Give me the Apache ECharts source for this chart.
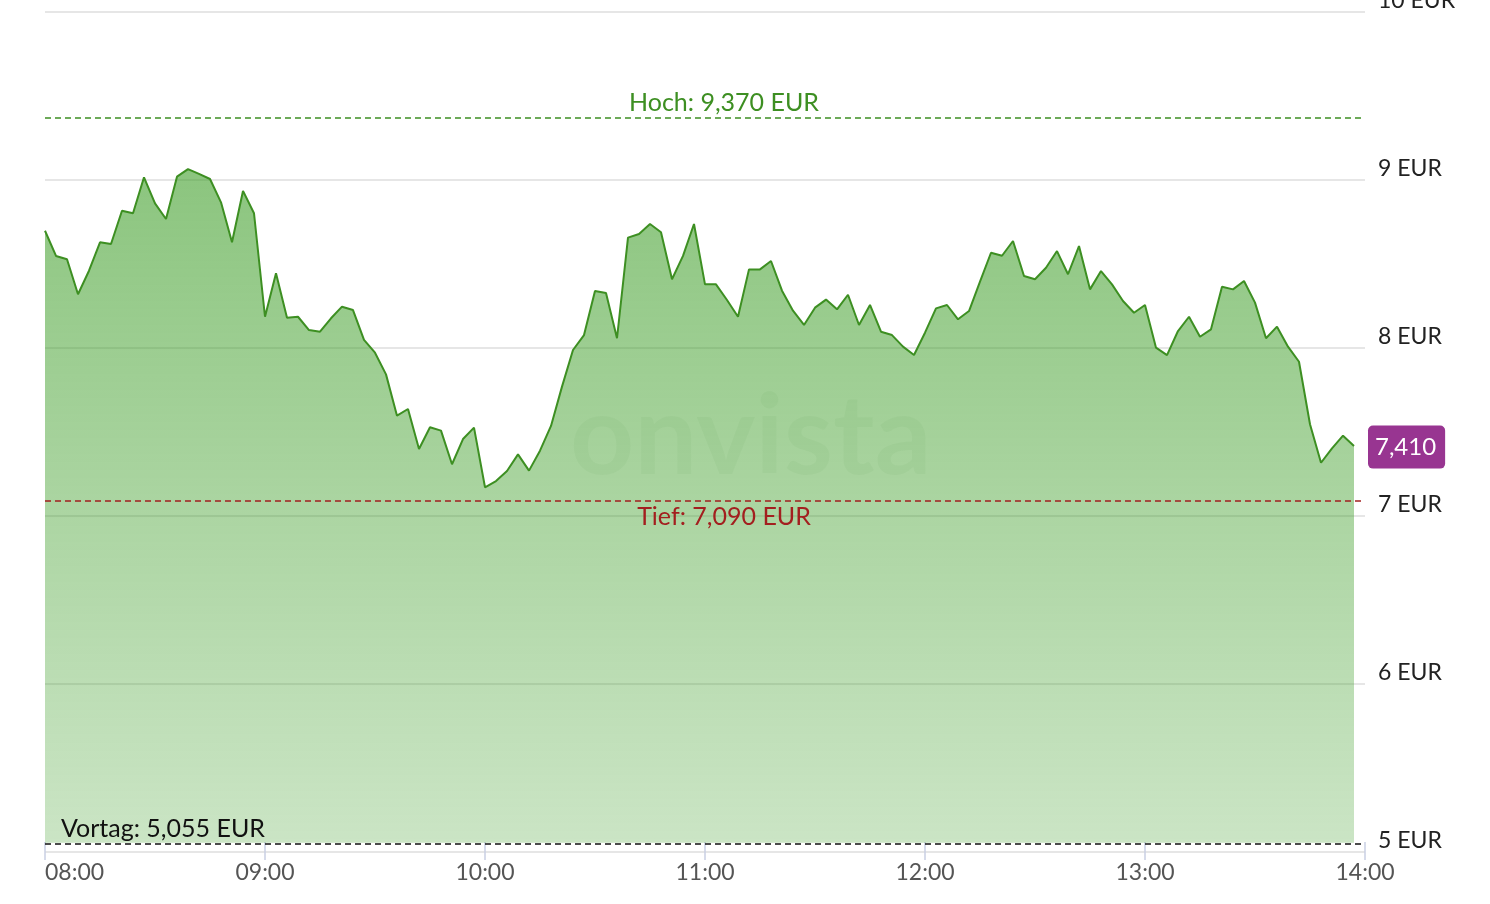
<!DOCTYPE html>
<html><head><meta charset="utf-8">
<script src="https://cdn.jsdelivr.net/npm/echarts@6/dist/echarts.min.js"></script>
<style>html,body{margin:0;padding:0;background:#fff}#c{width:1490px;height:904px}</style>
</head><body><div id="c"></div>
<script>
const startMinute = 0;           // 08:00
const stepMinutes = 3;
const prices = [
 8.698, 8.548, 8.528, 8.320, 8.460, 8.629, 8.619, 8.817, 8.802, 9.016, 8.861, 8.768, 9.020, 9.065, 9.036, 9.006, 8.867, 8.629, 8.935, 8.802, 8.186, 8.445, 8.180,
 8.186, 8.107, 8.097, 8.177, 8.246, 8.226, 8.048, 7.972, 7.843, 7.597, 7.637, 7.399, 7.528, 7.508, 7.308, 7.458, 7.526, 7.171, 7.208, 7.268, 7.367, 7.270,
 7.389, 7.536, 7.770, 7.988, 8.077, 8.339, 8.327, 8.058, 8.657, 8.679, 8.738, 8.689, 8.409, 8.548, 8.738, 8.379, 8.379, 8.286, 8.186, 8.468, 8.468, 8.518,
 8.341, 8.222, 8.137, 8.240, 8.288, 8.230, 8.317, 8.137, 8.256, 8.097, 8.077, 8.008, 7.958, 8.091, 8.236, 8.256, 8.171, 8.220, 8.395, 8.567, 8.549, 8.637,
 8.429, 8.409, 8.478, 8.577, 8.439, 8.607, 8.349, 8.458, 8.379, 8.280, 8.210, 8.256, 8.002, 7.958, 8.101, 8.186, 8.067, 8.111, 8.365, 8.349, 8.399, 8.270, 8.058, 8.127, 8.008, 7.918, 7.546, 7.317, 7.403, 7.478, 7.417
];
const high = 9.370, low = 7.090, prevClose = 5.055, last = 7.410;
const xTickLabels = ["08:00","09:00","10:00","11:00","12:00","13:00","14:00"];
const yTicks = [5,6,7,8,9,10];

const fmt = v => v.toFixed(3).replace('.', ',');
const data = prices.map((p, i) => [startMinute + i * stepMinutes, p]);
const FONT = 'Lato';

const chart = echarts.init(document.getElementById('c'), null, {renderer: 'canvas'});
chart.setOption({
  animation: false,
  textStyle: {fontFamily: FONT},
  grid: {left: 45, right: 125, top: 12, bottom: 52, containLabel: false, outerBoundsMode: 'none'},
  graphic: [{
    type: 'text', left: 570, top: 382, silent: true, z: 1,
    style: {text: 'onvista', font: 'bold 112px Lato', fill: 'rgba(0,60,0,0.045)'}
  }],
  xAxis: {
    type: 'value', min: 0, max: 360, interval: 60, offset: -10,
    axisLine: {show: false},
    axisTick: {show: true, length: 18, lineStyle: {color: '#c9d0e3', width: 1.5}},
    axisLabel: {margin: 19, fontSize: 23, color: '#555', fontFamily: FONT, alignMinLabel: 'left',
      formatter: v => xTickLabels[Math.round(v / 60)]},
    splitLine: {show: false}
  },
  yAxis: {
    type: 'value', position: 'right', min: 5, max: 10, interval: 1,
    axisLine: {show: false}, axisTick: {show: false},
    axisLabel: {margin: 13, fontSize: 23, color: '#222', fontFamily: FONT,
      verticalAlign: 'bottom', padding: [0,0,0,0],
      formatter: v => yTicks.includes(v) ? v + ' EUR' : ''},
    splitLine: {show: true, lineStyle: {color: '#dedede', width: 1.5}}
  },
  series: [{
    type: 'line', data: data, symbol: 'none', z: 3,
    lineStyle: {color: '#3d8f22', width: 2},
    areaStyle: {
      origin: prevClose, opacity: 1,
      color: {type: 'linear', x: 0, y: 0, x2: 0, y2: 1, colorStops: [
        {offset: 0, color: 'rgba(62,158,40,0.6)'},
        {offset: 1, color: 'rgba(62,158,40,0.27)'}
      ]}
    },
    markLine: {
      silent: true, symbol: 'none', animation: false,
      data: [
        {yAxis: high, lineStyle: {color: '#3d8f22', type: [6, 4], width: 1.5},
         label: {show: true, position: 'middle', distance: 2, offset: [19, 0], formatter: 'Hoch: ' + fmt(high) + ' EUR',
           color: '#3d8f22', fontSize: 25, fontFamily: FONT}},
        {yAxis: low, lineStyle: {color: '#a31f1f', type: [6, 4], width: 1.5},
         label: {show: true, position: 'insideMiddleBottom', distance: 4, offset: [19, 0], formatter: 'Tief: ' + fmt(low) + ' EUR',
           color: '#a31f1f', fontSize: 25, fontFamily: FONT}},
        {yAxis: prevClose, lineStyle: {color: '#111', type: [6, 4], width: 1.5},
         label: {show: true, position: 'insideStartTop', distance: [16, 2], formatter: 'Vortag: ' + fmt(prevClose) + ' EUR',
           color: '#111', fontSize: 25, fontFamily: FONT}},
        {yAxis: last, lineStyle: {color: 'rgba(0,0,0,0)', width: 0},
         label: {show: true, position: 'end', distance: 3, formatter: fmt(last),
           color: '#fff', fontSize: 24, fontFamily: FONT, backgroundColor: '#983591',
           padding: [10, 9, 9, 7], borderRadius: 5}}
      ]
    }
  }]
});
</script></body></html>
